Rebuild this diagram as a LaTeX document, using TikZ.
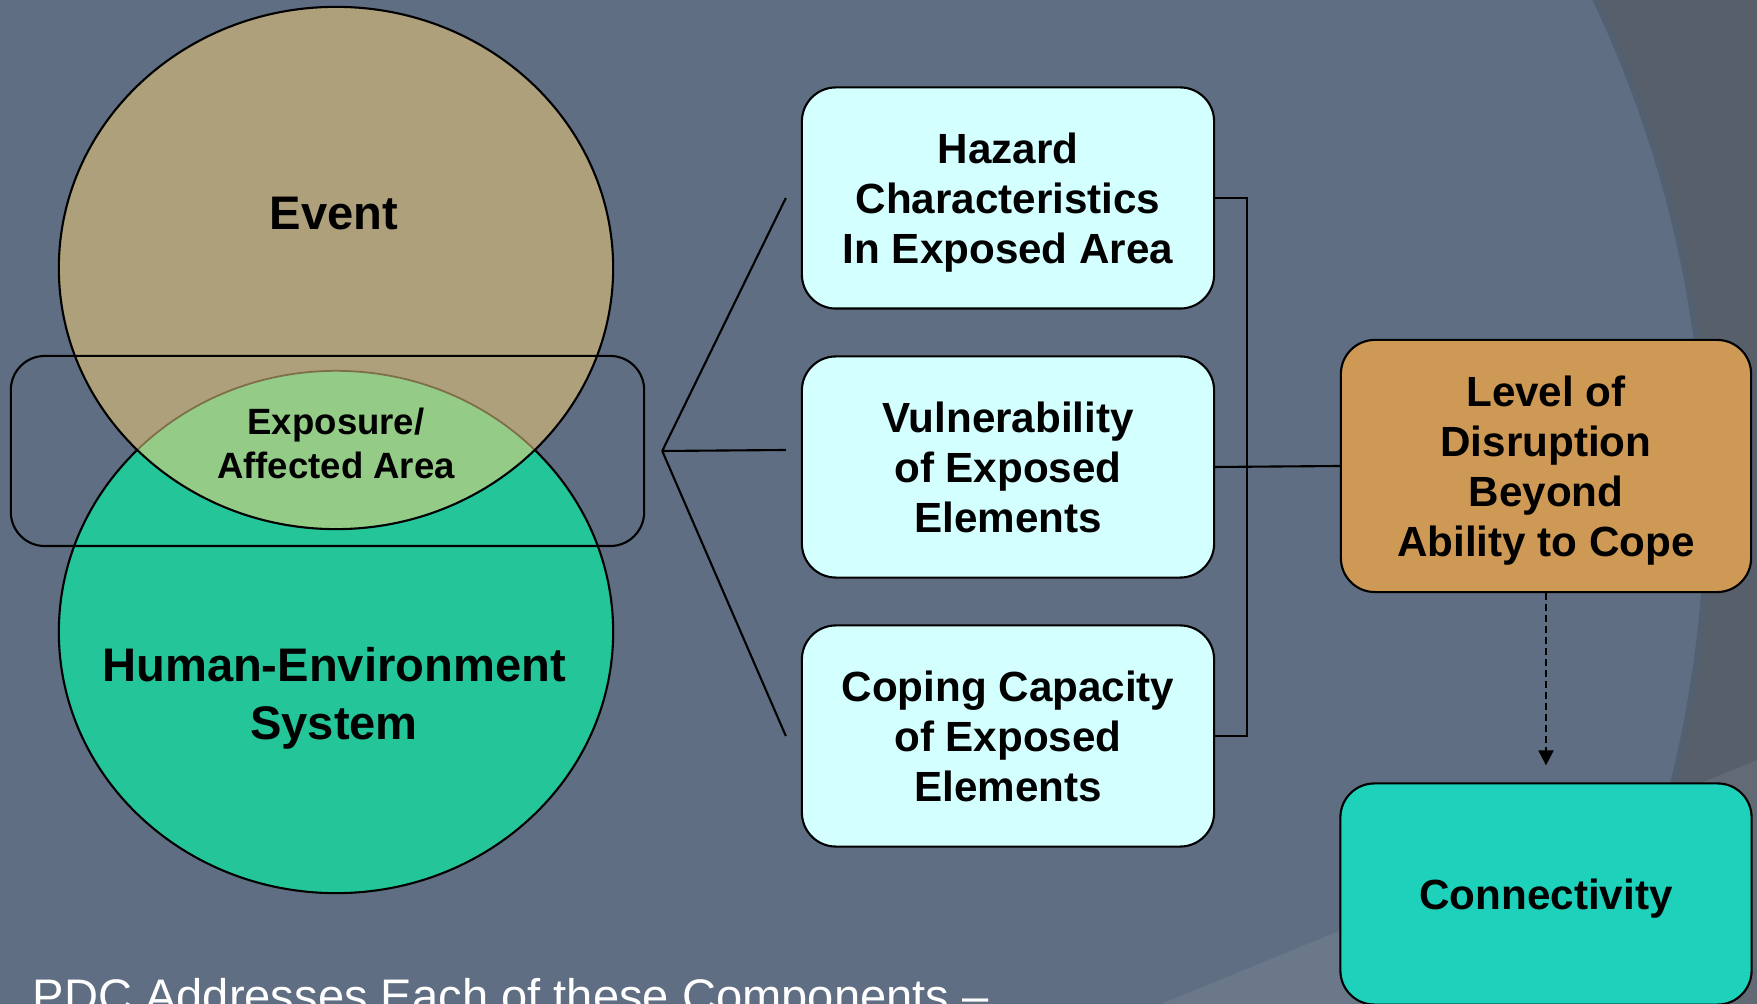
\documentclass[tikz,border=0pt]{standalone}
\usepackage{fontspec}
\setmainfont{Liberation Sans}
\usetikzlibrary{calc,positioning,arrows.meta}

\definecolor{slate}{HTML}{5F6E82}
\definecolor{slatedark}{HTML}{575F6B}
\definecolor{eventtan}{HTML}{ADA07A}
\definecolor{humangreen}{HTML}{25C59A}
\definecolor{lensgreen}{HTML}{93CB87}
\definecolor{lensrim}{HTML}{7E6E4A}
\definecolor{paleaqua}{HTML}{D4FFFF}
\definecolor{copeorange}{HTML}{CE9955}
\definecolor{connteal}{HTML}{1DD1BA}

\begin{document}
\begin{tikzpicture}[x=0.01cm,y=-0.01cm,
                    every node/.append style={align=center, text=black},
                    comp/.style={draw=black, line width=0.6pt, rounded corners=0.34cm,
                                 fill=paleaqua, minimum width=4.12cm, minimum height=2.21cm,
                                 font=\fontsize{12}{14.2}\selectfont\bfseries, text depth=-3.4pt},
                    link/.style={line width=0.6pt}]
    \useasboundingbox (0,0) rectangle (1757,1004);
    \begin{scope}
      \clip (0,0) rectangle (1757,1004);
      \fill[slate] (0,0) rectangle (1757,1004);
      \fill[slatedark, even odd rule] (0,0) rectangle (1757,1004) (538,500) circle[radius=11.72cm];
      \draw[black, opacity=.12, line width=0.06cm] (538,500) circle[radius=11.69cm];
      \fill[white, opacity=.07] (1161,1004) -- (1757,760) -- (1757,1004) -- cycle;
    \end{scope}
    % venn
    \fill[humangreen] (336,632) ellipse[x radius=2.77cm, y radius=2.61cm];
    \draw[link] (336,632) ellipse[x radius=2.77cm, y radius=2.61cm];
    \fill[eventtan] (336,268) ellipse[x radius=2.77cm, y radius=2.61cm];
    \begin{scope}
      \clip (336,268) ellipse[x radius=2.77cm, y radius=2.61cm];
      \fill[lensgreen] (336,632) ellipse[x radius=2.77cm, y radius=2.61cm];
      \draw[lensrim, line width=0.5pt] (336,632) ellipse[x radius=2.77cm, y radius=2.61cm];
    \end{scope}
    \draw[link] (336,268) ellipse[x radius=2.77cm, y radius=2.61cm];
    \node[draw=black, line width=0.6pt, rounded corners=0.34cm,
          minimum width=6.33cm, minimum height=1.90cm] (frame) at (327.5,451) {};
    \node[font=\fontsize{13.4}{16.5}\selectfont\bfseries] (event) at (334,214) {Event};
    \node[font=\fontsize{13.4}{16.5}\selectfont\bfseries] (hes) at (334,698) {Human-Environment\\System};
    \node[font=\fontsize{10.4}{12.5}\selectfont\bfseries] (expo) at (336,443) {Exposure/\\Affected Area};
    % components
    \node[comp] (haz) at (1008,198) {Hazard\\Characteristics\\In Exposed Area};
    \node[comp] (vul) at (1008,467) {Vulnerability\\of Exposed\\Elements};
    \node[comp] (cope) at (1008,736) {Coping Capacity\\of Exposed\\Elements};
    \node[comp, minimum width=4.10cm, minimum height=2.52cm, fill=copeorange, text depth=-1.3pt]
         (lev) at (1546,466) {Level of\\Disruption\\Beyond\\Ability to Cope};
    \node[comp, minimum width=4.11cm, fill=connteal, text depth=-0.9pt] (conn) at (1546,894) {Connectivity};
    % connectors
    \coordinate (apex) at ($(frame.east)+(17,0)$);
    \draw[link] (apex) -- ($(haz.west)+(-15,0)$);
    \draw[link] (apex) -- ($(vul.west)+(-15,-17)$);
    \draw[link] (apex) -- ($(cope.west)+(-15,0)$);
    \draw[link] (haz.east) -- ++(32,0) |- (cope.east);
    \draw[link] (vul.east) -- (lev.west);
    \draw[link, dash pattern=on 0.07cm off 0.04cm, -{Triangle[length=0.15cm, width=0.15cm]}]
         (lev.south) -- ($(conn.north)+(0,-17)$);
    \node[anchor=base west, inner sep=0, text=white, font=\fontsize{13.4}{16}\selectfont]
         (pdc) at (32,1013) {PDC Addresses Each of these Components –};
\end{tikzpicture}
\end{document}
